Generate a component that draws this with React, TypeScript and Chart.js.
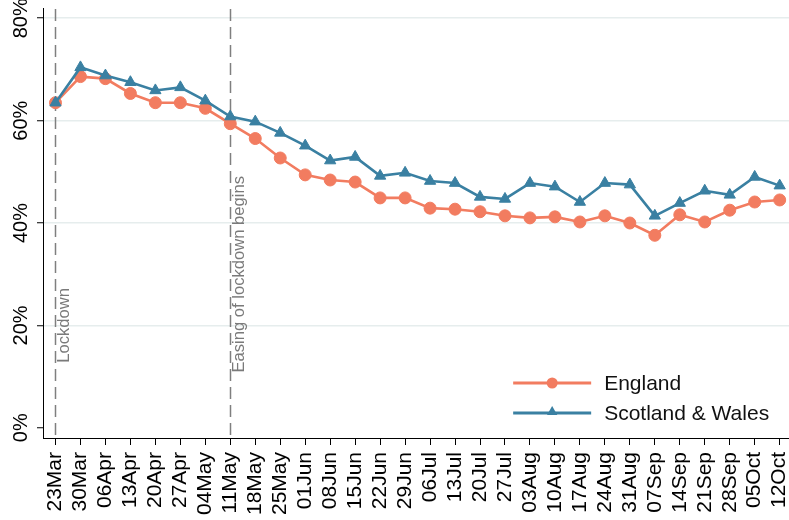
import React, { useEffect, useRef } from "react";
import { Chart, registerables } from "chart.js";

Chart.register(...registerables);

const categories = [
  "23Mar", "30Mar", "06Apr", "13Apr", "20Apr", "27Apr", "04May", "11May", "18May", "25May",
  "01Jun", "08Jun", "15Jun", "22Jun", "29Jun", "06Jul", "13Jul", "20Jul", "27Jul", "03Aug",
  "10Aug", "17Aug", "24Aug", "31Aug", "07Sep", "14Sep", "21Sep", "28Sep", "05Oct", "12Oct",
];

const england = [
  63.5, 68.6, 68.2, 65.3, 63.5, 63.5, 62.4, 59.4, 56.5, 52.7,
  49.4, 48.4, 48.0, 44.9, 44.9, 42.9, 42.7, 42.2, 41.4, 41.0,
  41.2, 40.2, 41.4, 40.0, 37.6, 41.6, 40.2, 42.5, 44.1, 44.5,
];

const scotlandWales = [
  63.5, 70.4, 68.8, 67.5, 65.9, 66.5, 63.9, 60.8, 59.8, 57.6,
  55.1, 52.2, 52.9, 49.2, 49.8, 48.2, 47.8, 45.1, 44.7, 47.8,
  47.1, 44.1, 47.8, 47.5, 41.4, 43.9, 46.3, 45.5, 49.0, 47.3,
];

const yTicks = [0, 20, 40, 60, 80];

const eventDates = ["23Mar", "11May"];
const eventLabels = ["Lockdown", "Easing of lockdown begins"];
const eventLabelBase = [12.7, 10.8];

const FONT = '"Liberation Sans", Arial, sans-serif';
const ENG_COLOR = "#f27c60";
const SW_COLOR = "#3a80a2";

const decorPlugin = {
  id: "decor",
  beforeDatasetsDraw(chart: any) {
    const { ctx, chartArea, scales } = chart;
    const xs = scales.x;
    const ys = scales.y;
    ctx.save();
    eventDates.forEach((d, i) => {
      const px = Math.round(xs.getPixelForValue(categories.indexOf(d))) + 0.5;
      ctx.strokeStyle = "#7f7f7f";
      ctx.lineWidth = 1.5;
      ctx.setLineDash([12, 6]);
      ctx.beginPath();
      ctx.moveTo(px, chartArea.top + 1);
      ctx.lineTo(px, chartArea.bottom);
      ctx.stroke();
      ctx.setLineDash([]);
      ctx.save();
      ctx.translate(px + 1, ys.getPixelForValue(eventLabelBase[i]));
      ctx.rotate(-Math.PI / 2);
      ctx.fillStyle = "#7a7a7a";
      ctx.font = `16.6px ${FONT}`;
      ctx.textAlign = "left";
      ctx.textBaseline = "top";
      ctx.fillText(eventLabels[i], 0, 0);
      ctx.restore();
    });
    ctx.restore();
  },
  afterDraw(chart: any) {
    const { ctx, chartArea, scales } = chart;
    const ys = scales.y;
    ctx.save();
    ctx.fillStyle = "#000";
    ctx.font = `20px ${FONT}`;
    ctx.textAlign = "center";
    ctx.textBaseline = "alphabetic";
    ys.ticks.forEach((t: any) => {
      const py = ys.getPixelForValue(t.value);
      ctx.save();
      ctx.translate(chartArea.left - 16.5, py);
      ctx.rotate(-Math.PI / 2);
      ctx.fillText(`${t.value}%`, 0, 0);
      ctx.restore();
    });
    const lx0 = chartArea.right - 279;
    const lx1 = chartArea.right - 201;
    const mx = (lx0 + lx1) / 2;
    const tx = chartArea.right - 188;
    const rows = [chartArea.bottom - 55, chartArea.bottom - 25];
    chart.data.datasets.forEach((ds: any, i: number) => {
      const ry = rows[i];
      ctx.strokeStyle = ds.borderColor;
      ctx.fillStyle = ds.borderColor;
      ctx.lineWidth = 3;
      ctx.beginPath();
      ctx.moveTo(lx0, ry);
      ctx.lineTo(lx1, ry);
      ctx.stroke();
      ctx.beginPath();
      if (ds.pointStyle === "triangle") {
        const r = 6;
        for (let k = 0; k < 3; k++) {
          const a = -Math.PI / 2 + (k * 2 * Math.PI) / 3;
          const px = mx + Math.cos(a) * r;
          const py = ry - 1 + Math.sin(a) * r;
          if (k === 0) ctx.moveTo(px, py);
          else ctx.lineTo(px, py);
        }
        ctx.closePath();
      } else {
        ctx.arc(mx, ry, 5.5, 0, Math.PI * 2);
      }
      ctx.fill();
      ctx.fillStyle = "#111";
      ctx.font = `21px ${FONT}`;
      ctx.textAlign = "left";
      ctx.textBaseline = "middle";
      ctx.fillText(ds.label, tx, ry + 1);
    });
    ctx.restore();
  },
};

export default function App() {
  const ref = useRef<HTMLCanvasElement | null>(null);

  useEffect(() => {
    if (!ref.current) return;
    const chart = new Chart(ref.current, {
      type: "line",
      data: {
        labels: categories,
        datasets: [
          {
            label: "England",
            data: england,
            borderColor: ENG_COLOR,
            backgroundColor: ENG_COLOR,
            pointBackgroundColor: ENG_COLOR,
            pointBorderColor: ENG_COLOR,
            pointStyle: "circle",
            pointRadius: 6,
            pointBorderWidth: 1,
            borderWidth: 2.6,
            tension: 0,
            order: 2,
          },
          {
            label: "Scotland & Wales",
            data: scotlandWales,
            borderColor: SW_COLOR,
            backgroundColor: SW_COLOR,
            pointBackgroundColor: SW_COLOR,
            pointBorderColor: SW_COLOR,
            pointStyle: "triangle",
            pointRadius: 6.5,
            pointBorderWidth: 1,
            borderWidth: 2.6,
            tension: 0,
            order: 1,
          },
        ],
      },
      options: {
        responsive: false,
        animation: false,
        layout: { padding: { top: 8, right: 0, left: 0, bottom: 0 } },
        plugins: {
          legend: { display: false },
          tooltip: { enabled: false },
          title: { display: false },
        },
        scales: {
          x: {
            type: "category",
            offset: true,
            grid: {
              display: true,
              drawOnChartArea: false,
              drawTicks: true,
              tickLength: 7,
              tickColor: "#000",
              offset: false,
            },
            border: { color: "#000", width: 1 },
            ticks: {
              autoSkip: false,
              minRotation: 90,
              maxRotation: 90,
              padding: 7,
              color: "#000",
              font: { family: FONT, size: 21 },
            },
            afterFit: (s: any) => {
              s.height = 82;
            },
          },
          y: {
            type: "linear",
            min: -2,
            max: 82,
            afterBuildTicks: (s: any) => {
              s.ticks = yTicks.map((v) => ({ value: v }));
            },
            grid: {
              color: (c: any) =>
                c.tick && c.tick.value === 0 ? "rgba(0,0,0,0)" : "#e6eded",
              lineWidth: 1.5,
              tickColor: "#000",
              tickWidth: 1,
              tickLength: 6,
              drawTicks: true,
            },
            border: { color: "#000", width: 1 },
            ticks: { display: false },
            afterFit: (s: any) => {
              s.width = 43;
            },
          },
        },
      },
      plugins: [decorPlugin],
    });
    return () => chart.destroy();
  }, []);

  return (
    <div
      style={{
        position: "absolute",
        left: 0,
        top: 0,
        width: 789,
        height: 520,
        overflow: "hidden",
        background: "#fff",
      }}
    >
      <canvas ref={ref} width={812} height={520} style={{ display: "block" }} />
    </div>
  );
}
